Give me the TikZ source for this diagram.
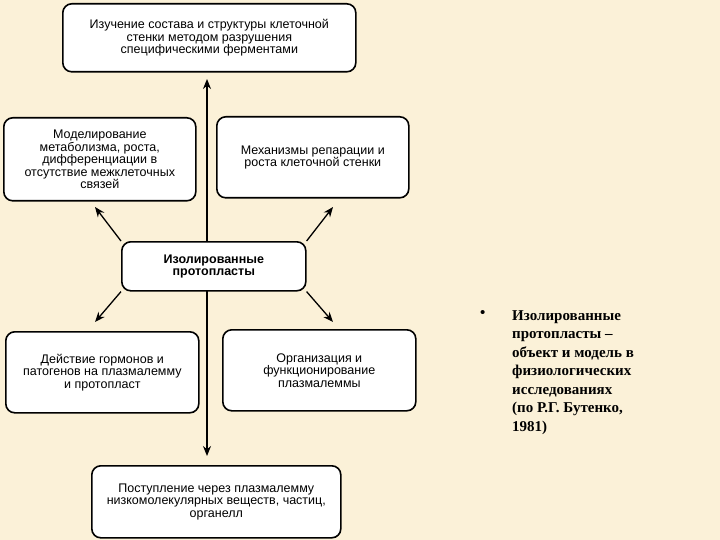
\documentclass[tikz,border=0pt]{standalone}
\usepackage{fontspec}
\usetikzlibrary{arrows.meta}
\setmainfont{Liberation Sans}
\newfontfamily\tnr{Liberation Serif}
\begin{document}
\begin{tikzpicture}[x=1pt,y=-1pt,
  box/.style={draw,line width=1.6pt,rounded corners=9pt,fill=white,align=center,font=\fontsize{12.5}{12.5}\selectfont,inner sep=2pt},
  arr/.style={line width=1.3pt,-{Stealth[length=10pt,width=8pt]}}]
\definecolor{bg}{HTML}{FBF1D8}
\fill[bg] (0,0) rectangle (720,540);
\useasboundingbox (0,0) rectangle (720,540);
\node[box,minimum width=293pt,minimum height=68pt,anchor=north west] (top) at (62,3) {Изучение состава и структуры клеточной\\стенки методом разрушения\\специфическими ферментами};
\node[box,minimum width=192pt,minimum height=83pt,anchor=north west] (l1) at (3,117) {Моделирование\\метаболизма, роста,\\дифференциации в\\отсутствие межклеточных\\связей};
\node[box,minimum width=192pt,minimum height=81pt,anchor=north west] (r1) at (216,116) {Механизмы репарации и\\роста клеточной стенки};
\node[box,minimum width=184pt,minimum height=49pt,anchor=north west,font=\fontsize{12.5}{12.5}\selectfont\bfseries] (c) at (121,241) {Изолированные\\протопласты};
\node[box,minimum width=193pt,minimum height=81pt,anchor=north west] (l2) at (5,331) {Действие гормонов и\\патогенов на плазмалемму\\и протопласт};
\node[box,minimum width=193pt,minimum height=81pt,anchor=north west] (r2) at (222,329) {Организация и\\функционирование\\плазмалеммы};
\node[box,minimum width=249pt,minimum height=72pt,anchor=north west] (b) at (91,465) {Поступление через плазмалемму\\низкомолекулярных веществ, частиц,\\органелл};
\coordinate (ua) at (207,79);
\coordinate (da) at (207,456);
\coordinate (ul) at (95,207);
\coordinate (ur) at (333,207);
\coordinate (dl) at (95,322);
\coordinate (dr) at (333,322);
\draw[arr] (207,241) -- (ua);
\draw[arr] (207,290) -- (da);
\draw[arr] (c.north west) -- (ul);
\draw[arr] (c.north east) -- (ur);
\draw[arr] (c.south west) -- (dl);
\draw[arr] (c.south east) -- (dr);
\node[anchor=north west,inner sep=0pt,font=\tnr\bfseries\fontsize{15}{18.5}\selectfont] (bul) at (480,310) {•};
\node[anchor=north west,align=left,inner sep=0pt,font=\tnr\bfseries\fontsize{15}{18.5}\selectfont] (txt) at (512,310) {Изолированные\\протопласты –\\объект и модель в\\физиологических\\исследованиях\\(по Р.Г. Бутенко,\\1981)};
\end{tikzpicture}
\end{document}
